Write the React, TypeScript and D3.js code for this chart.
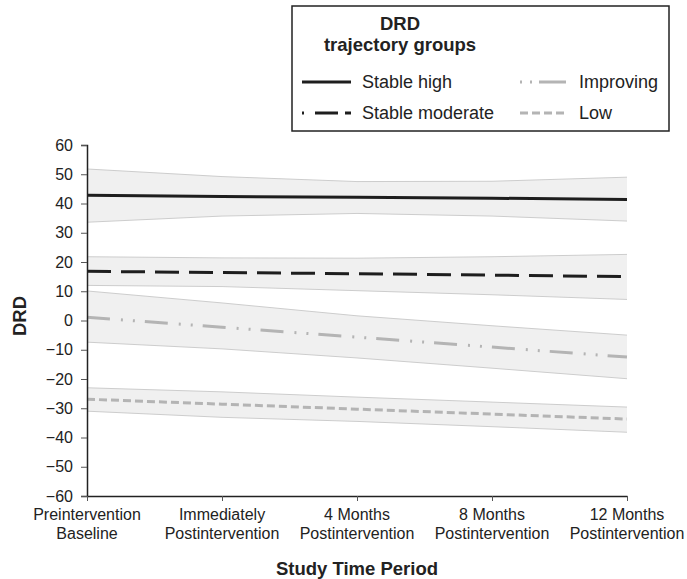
import { useRef, useEffect, RefObject } from 'react';
import * as d3 from 'd3';

// study time points
const periods: string[][] = [
  ['Preintervention', 'Baseline'],
  ['Immediately', 'Postintervention'],
  ['4 Months', 'Postintervention'],
  ['8 Months', 'Postintervention'],
  ['12 Months', 'Postintervention'],
];
const yTicks: number[] = [60, 50, 40, 30, 20, 10, 0, -10, -20, -30, -40, -50, -60];

// group estimates and confidence bands
const stableHighMean = [42.8, 42.4, 42.1, 41.8, 41.4];
const stableHighUpper = [51.8, 49.2, 47.5, 47.6, 49.0];
const stableHighLower = [33.6, 35.7, 36.6, 35.7, 34.0];

const stableModMean = [16.8, 16.4, 16.0, 15.5, 15.0];
const stableModUpper = [21.8, 21.4, 21.3, 21.8, 22.6];
const stableModLower = [12.0, 11.6, 10.2, 8.8, 7.2];

const improvingMean = [1.1, -2.3, -5.7, -9.1, -12.5];
const improvingUpper = [10.1, 6.0, 1.6, -1.8, -5.0];
const improvingLower = [-7.4, -9.7, -12.8, -16.3, -19.9];

const lowMean = [-26.9, -28.6, -30.3, -32.0, -33.7];
const lowUpper = [-23.0, -24.4, -26.2, -27.9, -29.6];
const lowLower = [-31.0, -33.1, -34.5, -36.3, -38.2];

const groups = [
  { name: 'Stable high', mean: stableHighMean, upper: stableHighUpper, lower: stableHighLower, color: '#1e1e1e', dash: null },
  { name: 'Stable moderate', mean: stableModMean, upper: stableModUpper, lower: stableModLower, color: '#1e1e1e', dash: '24 10' },
  { name: 'Improving', mean: improvingMean, upper: improvingUpper, lower: improvingLower, color: '#b4b4b4', dash: '23 11 2 10 2 10' },
  { name: 'Low', mean: lowMean, upper: lowUpper, lower: lowLower, color: '#b4b4b4', dash: '8 4' },
];

const FONT = '"Liberation Sans", Arial, sans-serif';

const App = () => {
  const svgRef: RefObject<SVGSVGElement> = useRef(null);

  useEffect(() => {
    const width = 687;
    const height = 579;
    const svg = d3.select(svgRef.current);
    svg.selectAll('*').remove();
    svg
      .attr('width', width)
      .attr('height', height)
      .attr('style', `position:absolute;left:0;top:0;font-family:${FONT};`);

    const idx = periods.map((_, i) => String(i));
    const x = d3.scalePoint().domain(idx).range([87, 627]);
    const y = d3.scaleLinear().domain([-60, 60]).range([496, 145]);

    // bands
    groups.forEach((g) => {
      const area = d3
        .area<number>()
        .x((_, i) => x(String(i))!)
        .y0((_, i) => y(g.lower[i]))
        .y1((d) => y(d));
      svg.append('path').attr('d', area(g.upper)).attr('fill', '#f0f0f0');
      const edge = d3.line<number>().x((_, i) => x(String(i))!).y((d) => y(d));
      [g.upper, g.lower].forEach((b) =>
        svg.append('path').attr('d', edge(b)).attr('fill', 'none').attr('stroke', '#cdcdcd').attr('stroke-width', 1)
      );
    });

    // mean lines
    groups.forEach((g) => {
      const line = d3.line<number>().x((_, i) => x(String(i))!).y((d) => y(d));
      svg
        .append('path')
        .attr('d', line(g.mean))
        .attr('fill', 'none')
        .attr('stroke', g.color)
        .attr('stroke-width', 3)
        .attr('stroke-dasharray', g.dash);
    });

    // y axis
    const yAxis = svg
      .append('g')
      .attr('transform', 'translate(87,0)')
      .call(d3.axisLeft(y).tickValues(yTicks).tickSize(6).tickPadding(8).tickFormat((d) => d3.format('')(d as number).replace('-', '\u2212')));
    yAxis.select('.domain').attr('stroke', '#222').attr('stroke-width', 1.5);
    yAxis.selectAll('line').attr('stroke', '#555');
    yAxis.selectAll('text').attr('font-size', 16).attr('fill', '#222').attr('font-family', FONT);

    // x axis
    const xAxis = svg
      .append('g')
      .attr('transform', 'translate(0,496)')
      .call(d3.axisBottom(x).tickSize(5).tickSizeOuter(0).tickFormat(() => ''));
    xAxis.select('.domain').attr('stroke', '#222').attr('stroke-width', 1.5);
    xAxis.selectAll('line').attr('stroke', '#555');

    const xl = svg
      .append('g')
      .selectAll('text')
      .data(periods)
      .join('text')
      .attr('x', (_, i) => x(String(i))!)
      .attr('y', 520)
      .attr('text-anchor', 'middle')
      .attr('font-size', 16)
      .attr('fill', '#222');
    xl.append('tspan').attr('x', (_, i) => x(String(i))!).text((d) => d[0]);
    xl.append('tspan').attr('x', (_, i) => x(String(i))!).attr('dy', 18.5).text((d) => d[1]);

    svg
      .append('text')
      .attr('x', 357)
      .attr('y', 575)
      .attr('text-anchor', 'middle')
      .attr('font-size', 18.5)
      .attr('font-weight', 'bold')
      .attr('fill', '#222')
      .text('Study Time Period');

    svg
      .append('text')
      .attr('transform', 'translate(26,316) rotate(-90)')
      .attr('text-anchor', 'middle')
      .attr('font-size', 18.5)
      .attr('font-weight', 'bold')
      .attr('fill', '#222')
      .text('DRD');

    // legend
    const lg = svg.append('g');
    lg.append('rect')
      .attr('x', 292)
      .attr('y', 6)
      .attr('width', 377)
      .attr('height', 125)
      .attr('fill', 'white')
      .attr('stroke', '#222')
      .attr('stroke-width', 1.5);
    lg.append('text')
      .attr('x', 400).attr('y', 30)
      .attr('text-anchor', 'middle').attr('font-size', 18.5).attr('font-weight', 'bold').attr('fill', '#222')
      .text('DRD');
    lg.append('text')
      .attr('x', 400).attr('y', 51)
      .attr('text-anchor', 'middle').attr('font-size', 18.5).attr('font-weight', 'bold').attr('fill', '#222')
      .text('trajectory groups');

    const legendPos = [
      { x: 302, ty: 88 },
      { x: 302, ty: 119 },
      { x: 520, ty: 88 },
      { x: 520, ty: 119 },
    ];
    groups.forEach((g, i) => {
      const p = legendPos[i];
      const sw = i < 2 ? 49 : 46;
      lg.append('line')
        .attr('x1', p.x).attr('x2', p.x + sw)
        .attr('y1', p.ty - 6).attr('y2', p.ty - 6)
        .attr('stroke', g.color)
        .attr('stroke-width', 3)
        .attr('stroke-dasharray', i === 1 ? '2 11 23 7 6 10' : i === 2 ? '2 8 2 7 29' : g.dash);
      lg.append('text')
        .attr('x', i < 2 ? 362 : 579)
        .attr('y', p.ty)
        .attr('font-size', 18)
        .attr('fill', '#222')
        .text(g.name);
    });
  }, []);

  return <svg ref={svgRef}></svg>;
};

export default App;
